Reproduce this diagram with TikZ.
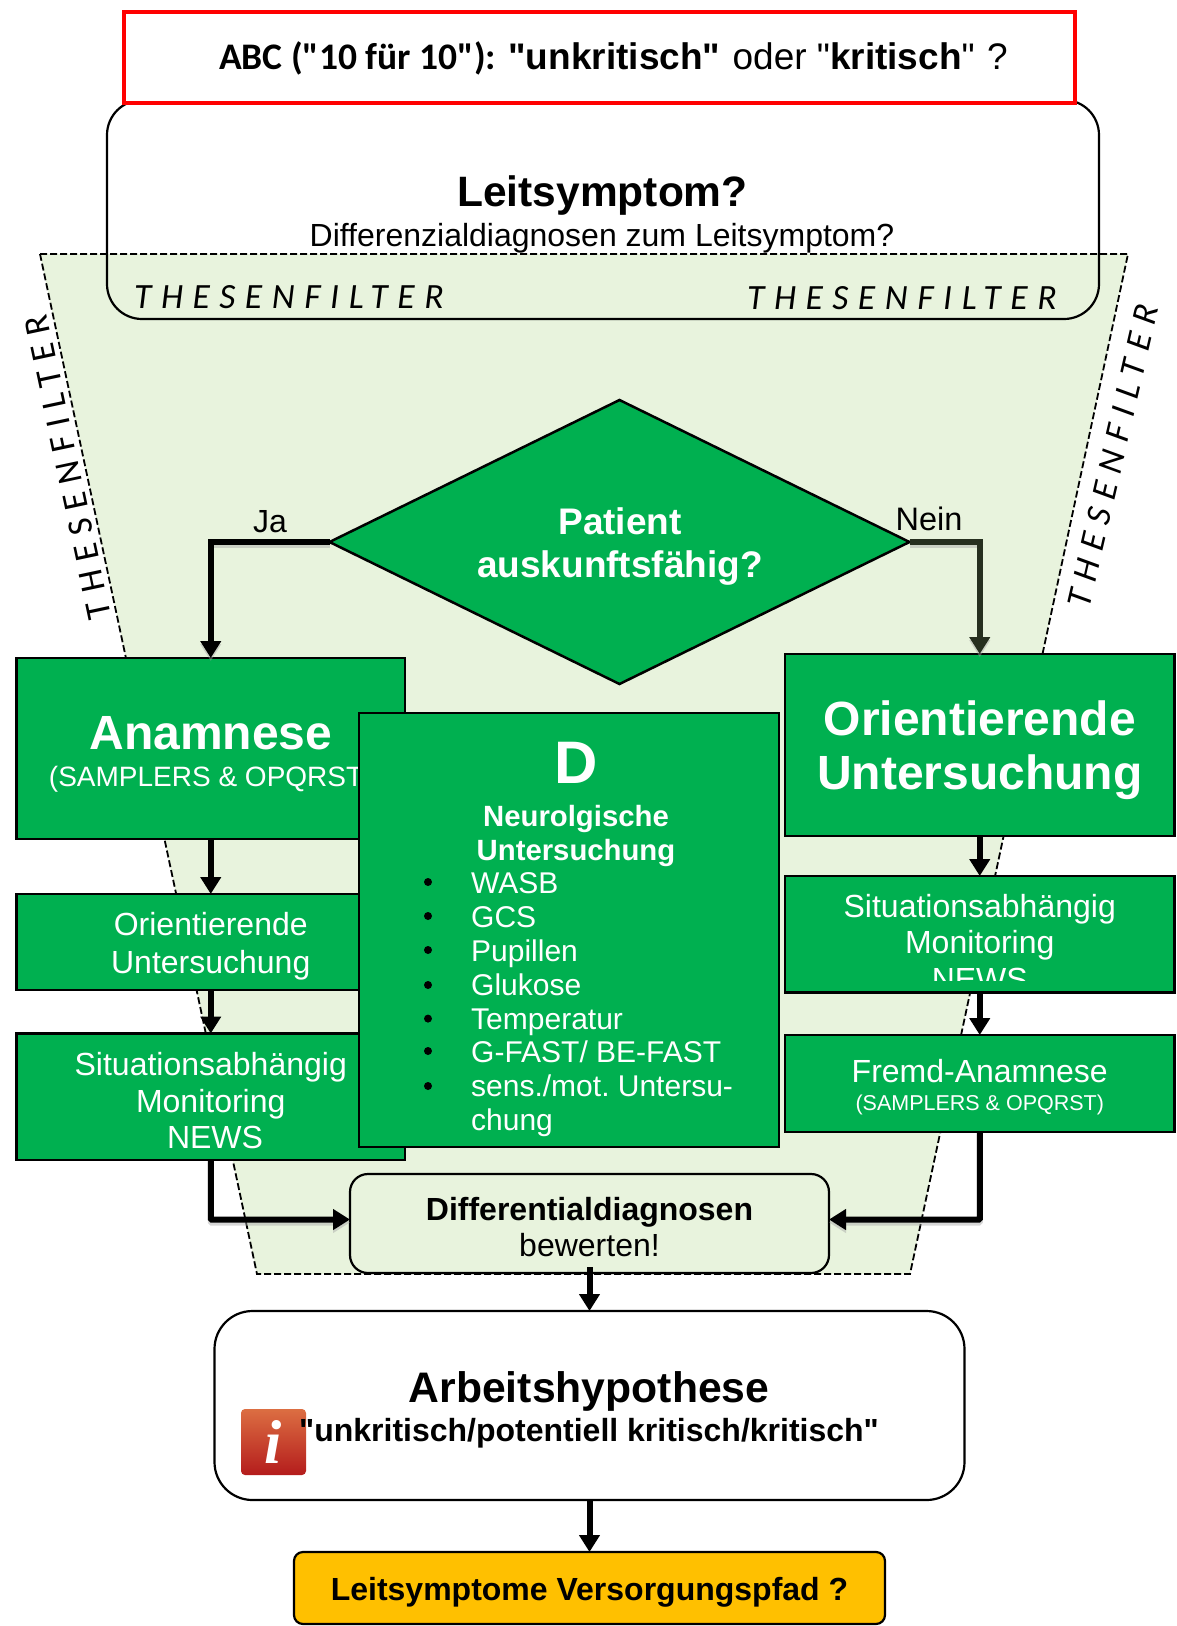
\documentclass[tikz,border=0pt]{standalone}
\usepackage{fontspec}
\setmainfont{Liberation Sans}
\newfontfamily\lib{Liberation Sans}
\newfontfamily\serifi{Liberation Serif}
\newfontfamily\calfont{Carlito}
\newfontfamily\calsp[LetterSpace=27]{Carlito}
\usetikzlibrary{arrows.meta,shapes.geometric,calc}
\definecolor{grn}{HTML}{00B050}
\definecolor{lgrn}{HTML}{E8F3DD}
\definecolor{ylw}{HTML}{FFC000}
\definecolor{olive}{HTML}{262F1F}
\definecolor{ictop}{HTML}{DC6E42}
\definecolor{icmid}{HTML}{C8402A}
\definecolor{icbot}{HTML}{B41C1C}
\newcommand{\fs}[1]{\fontsize{#1}{#1}\selectfont}
\frenchspacing
\tikzset{
 gbox/.style={draw=black,fill=grn,line width=2.5pt,inner sep=0,outer sep=0},
 rbox/.style={draw=black,line width=2.2pt,inner sep=0,outer sep=0,rounded corners=#1},
 lab/.style={anchor=base,inner sep=0,outer sep=0,align=center},
 wlab/.style={lab,text=white},
 arrp/.style={line width=6pt,-{Triangle[length=17pt,width=20pt]}},
 arr/.style={arrp,preaction={draw=black!35,opacity=.45,line width=6pt,transform canvas={yshift=-3pt}}},
 li/.style={anchor=base west,inner sep=0,text=white,font=\fs{30}},
 bul/.style={circle,fill=black,inner sep=0,minimum size=8pt},
 thes/.style={inner sep=0,anchor=base west,font=\fs{35.5}\calsp\itshape},
}
\begin{document}
\begin{tikzpicture}[x=1pt,y=-1pt]
\useasboundingbox (0,0) rectangle (1176,1626);
% filter funnel
\fill[lgrn] (40,254) -- (1128,254) -- (910,1274) -- (257,1274) -- cycle;
\draw[line width=1.8pt,dash pattern=on 7pt off 3pt] (40,254) -- (1128,254) -- (910,1274) -- (257,1274) -- cycle;
% Leitsymptom box
\node[rbox=35pt,minimum width=992pt,minimum height=219pt] (leit) at (603,209.5) {};
% header
\node[draw=red,fill=white,line width=4.5pt,minimum width=951pt,minimum height=91pt,inner sep=0] (abc) at (599.5,57.5) {};
\node[anchor=base west,inner sep=0,font=\fs{37}\lib] (abct) at (219,69) {{\fs{37.5}\calfont\bfseries ABC ("10 für 10"):}\hspace{2pt} {\bfseries "unkritisch"}\hspace{2pt} oder "\textbf{kritisch}"\hspace{2pt} ?};
\node[lab,font=\fs{42.5}\bfseries] (leitt) at (602.5,206) {Leitsymptom?};
\node[lab,font=\fs{32}] (ddt) at (602,246) {Differenzialdiagnosen zum Leitsymptom?};
\node[thes] (t1) at (134,308) {THESENFILTER};
\node[thes] (t2) at (747,309) {THESENFILTER};
\node[inner sep=0,rotate=102,font=\fs{35.5}\calsp] (t3) at (68,467) {THESENFILTER};
\node[inner sep=0,rotate=77,font=\fs{35.5}\calsp\itshape] (t4) at (1113,456) {THESENFILTER};
% decision
\node[diamond,draw=black,fill=grn,line width=2.5pt,inner sep=0,outer sep=0,minimum width=580pt,minimum height=284pt] (dia) at (619.5,542) {};
\node[wlab,font=\fs{37}\bfseries] (pt1) at (620,534.5) {Patient};
\node[wlab,font=\fs{37}\bfseries] (pt2) at (620,577) {auskunftsfähig?};
\node[lab,font=\fs{32}] (ja) at (270,532) {Ja};
\node[lab,font=\fs{32.5}] (nein) at (929,530) {Nein};
% left column
\node[gbox,minimum width=388.5pt,minimum height=181pt] (ana) at (210.75,748.5) {};
\node[gbox,minimum width=388.5pt,minimum height=96pt] (oul) at (210.75,942) {};
\node[gbox,minimum width=388.5pt,minimum height=126.5pt] (sitl) at (210.75,1096.75) {};
\node[wlab,font=\fs{48}\bfseries] (anat) at (210.75,749) {Anamnese};
\node[wlab,font=\fs{28}] (anas) at (210.75,786) {(SAMPLERS \& OPQRST)};
\node[wlab,font=\fs{32}] (oul1) at (210.75,935) {Orientierende};
\node[wlab,font=\fs{32}] (oul2) at (210.75,973) {Untersuchung};
\node[wlab,font=\fs{32}] (sl1) at (210.75,1075) {Situationsabhängig};
\node[wlab,font=\fs{32}] (sl2) at (210.75,1112) {Monitoring};
\node[wlab,font=\fs{32}] (sl3) at (215,1148) {NEWS};
% right column
\node[gbox,minimum width=389.5pt,minimum height=182pt] (oub) at (979.75,745) {};
\node[gbox,minimum width=389.5pt,minimum height=116.5pt] (sitr) at (979.75,934.25) {};
\node[gbox,minimum width=389.5pt,minimum height=97pt] (fremd) at (979.75,1083.5) {};
\node[wlab,font=\fs{48}\bfseries] (oub1) at (979.75,735) {Orientierende};
\node[wlab,font=\fs{48}\bfseries] (oub2) at (979.75,789) {Untersuchung};
\node[wlab,font=\fs{32}] (sr1) at (979.75,917) {Situationsabhängig};
\node[wlab,font=\fs{32}] (sr2) at (979.75,953.6) {Monitoring};
\begin{scope}
 \clip (790,960) rectangle (1170,980);
 \node[wlab,font=\fs{32}] (sr3) at (979.75,990) {NEWS};
\end{scope}
\node[wlab,font=\fs{32}] (fr1) at (979.75,1082) {Fremd-Anamnese};
\node[wlab,font=\fs{21.5}] (fr2) at (979.75,1110) {(SAMPLERS \& OPQRST)};
% D box
\node[gbox,minimum width=420pt,minimum height=434pt] (dbox) at (569,930) {};
\node[wlab,font=\fs{60}\bfseries] (dt) at (576,783) {D};
\node[wlab,font=\fs{29.3}\bfseries] (d1) at (576,826) {Neurolgische};
\node[wlab,font=\fs{29.3}\bfseries] (d2) at (576,860) {Untersuchung};
\foreach \n/\yb/\tx in {a/893/WASB,b/927/GCS,c/961/Pupillen,d/995/Glukose,e/1029.6/Temperatur,f/1062/{G-FAST/ BE-FAST},g/1096/{sens./mot. Untersu-},h/1130/chung}{
 \node[li] (li\n) at (471,\yb) {\tx};
}
\foreach \n/\yb in {a/882,b/916,c/950,d/985,e/1018.6,f/1051,g/1086}{
 \node[bul] (bu\n) at (428,\yb) {};
}
% differential
\node[rbox=18pt,fill=lgrn,minimum width=479pt,minimum height=99pt] (diff) at (589.5,1223.5) {};
\node[lab,font=\fs{32}\bfseries] (dif1) at (589.5,1220) {Differentialdiagnosen};
\node[lab,font=\fs{32}] (dif2) at (589.5,1256) {bewerten!};
% Arbeitshypothese
\node[rbox=38pt,fill=white,minimum width=750pt,minimum height=189pt] (arb) at (589.5,1405.5) {};
\node[rounded corners=4pt,top color=ictop,middle color=icmid,bottom color=icbot,draw=none,minimum width=65pt,minimum height=66pt,inner sep=0] (icon) at (273.5,1442) {};
\node[font=\fs{62}\serifi\itshape\bfseries,text=white,inner sep=0] (iconi) at (273.5,1442) {i};
\node[lab,font=\fs{42.7}\bfseries] (arb1) at (589,1402) {Arbeitshypothese};
\node[lab,font=\fs{32}\lib\bfseries] (arb2) at (589,1441) {"unkritisch/potentiell kritisch/kritisch"};
% Versorgungspfad
\node[rbox=9pt,fill=ylw,minimum width=591pt,minimum height=72pt] (vers) at (589.5,1588) {};
\node[lab,font=\fs{32}\bfseries] (verst) at (589.5,1600) {Leitsymptome Versorgungspfad ?};
% connectors
\draw[arr] (dia.west) -| (ana.north);
\draw[arr,draw=olive] (dia.east) -| (oub.north);
\draw[arrp] (ana.south) -- (oul.north);
\draw[arrp] (oul.south) -- (sitl.north);
\draw[arrp] (oub.south) -- (sitr.north);
\draw[arrp] (sitr.south) -- (fremd.north);
\draw[arr,rounded corners=1pt] (sitl.south) |- ([yshift=4pt]diff.west);
\draw[arr,rounded corners=1pt] (fremd.south) |- ([yshift=4pt]diff.east);
\draw[arrp] ([yshift=6pt]diff.south) -- (arb.north);
\draw[arrp] (arb.south) -- (vers.north);
\end{tikzpicture}
\end{document}
